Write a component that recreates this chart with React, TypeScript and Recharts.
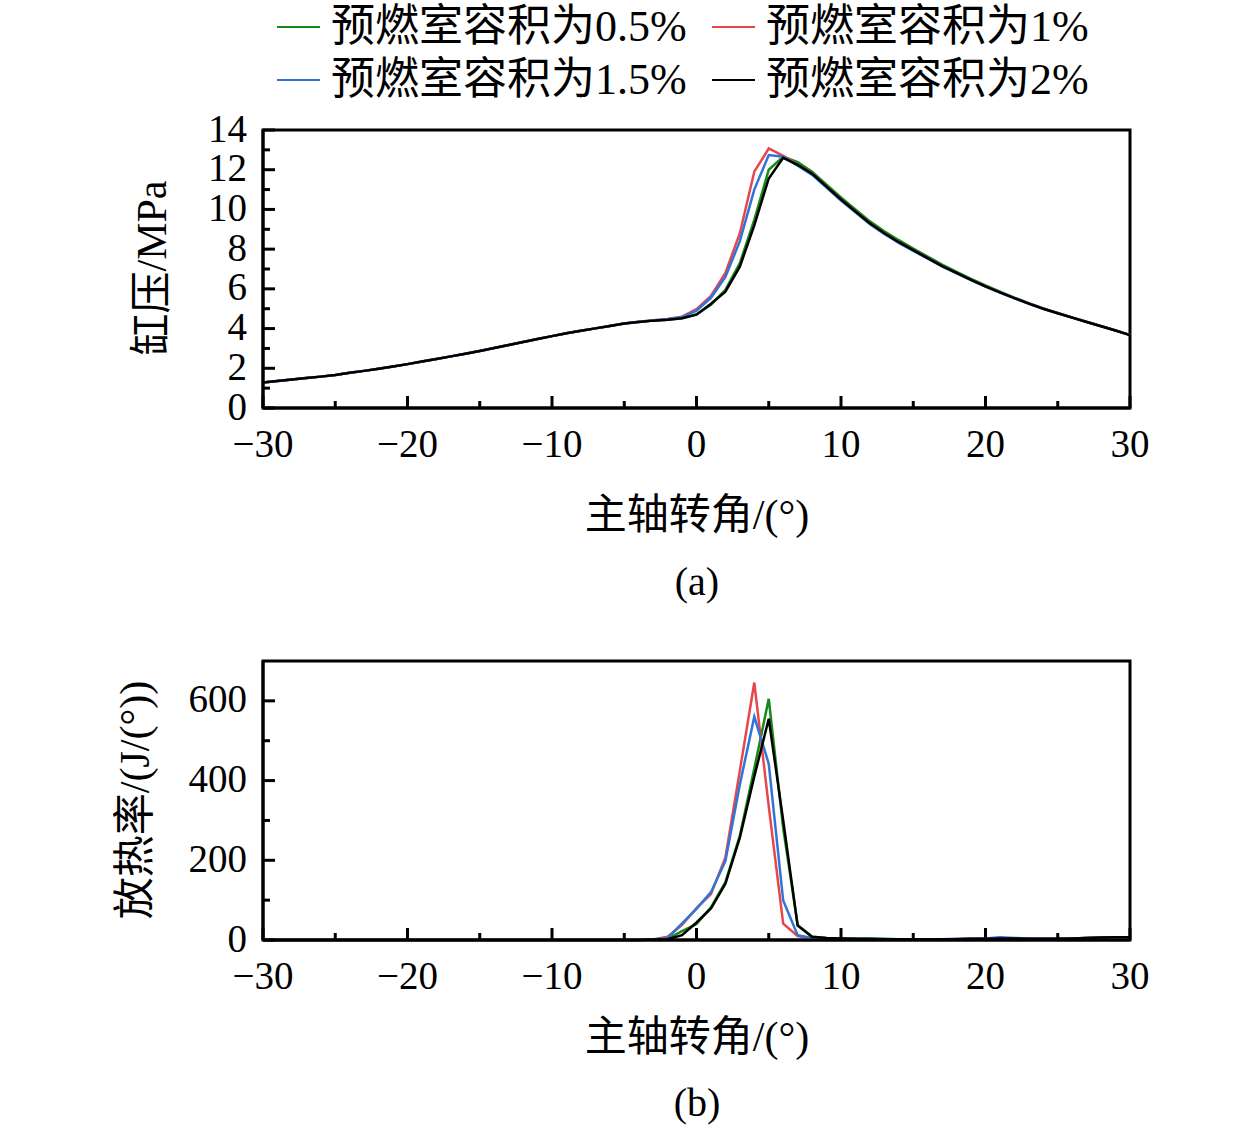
import React from "react";
import { LineChart, Line, XAxis, YAxis, ReferenceArea } from "recharts";

// crank angle, degrees
const angle = [
  -30, -29, -28, -27, -26, -25, -24, -23, -22, -21, -20, -19, -18, -17, -16, -15, -14, -13, -12, -11,
  -10, -9, -8, -7, -6, -5, -4, -3, -2, -1, 0, 1, 2, 3, 4, 5, 6, 7, 8, 9, 10, 11, 12, 13, 14, 15, 16,
  17, 18, 19, 20, 21, 22, 23, 24, 25, 26, 27, 28, 29, 30,
];

// cylinder pressure, MPa
const pressure05 = [
  1.29, 1.36, 1.43, 1.51, 1.58, 1.66, 1.77, 1.87, 1.98, 2.09, 2.21, 2.34, 2.47, 2.6, 2.73, 2.87, 3.02,
  3.17, 3.32, 3.47, 3.62, 3.76, 3.89, 4.01, 4.13, 4.25, 4.33, 4.4, 4.45, 4.52, 4.72, 5.2, 5.95, 7.3,
  9.47, 12.0, 12.65, 12.38, 11.9, 11.25, 10.6, 10.0, 9.4, 8.9, 8.45, 8.03, 7.62, 7.22, 6.86, 6.5, 6.17,
  5.86, 5.56, 5.28, 5.02, 4.79, 4.56, 4.34, 4.13, 3.91, 3.68,
];
const pressure1 = [
  1.29, 1.36, 1.43, 1.51, 1.58, 1.66, 1.77, 1.87, 1.98, 2.09, 2.21, 2.34, 2.47, 2.6, 2.73, 2.87, 3.02,
  3.17, 3.32, 3.47, 3.62, 3.76, 3.89, 4.01, 4.13, 4.25, 4.34, 4.42, 4.48, 4.6, 4.98, 5.65, 6.8, 8.8,
  11.9, 13.07, 12.7, 12.25, 11.8, 11.15, 10.5, 9.9, 9.3, 8.8, 8.35, 7.95, 7.55, 7.15, 6.8, 6.45, 6.12,
  5.82, 5.53, 5.26, 5.0, 4.77, 4.55, 4.33, 4.12, 3.9, 3.67,
];
const pressure15 = [
  1.29, 1.36, 1.43, 1.51, 1.58, 1.66, 1.77, 1.87, 1.98, 2.09, 2.21, 2.34, 2.47, 2.6, 2.73, 2.87, 3.02,
  3.17, 3.32, 3.47, 3.62, 3.76, 3.89, 4.01, 4.13, 4.25, 4.34, 4.41, 4.47, 4.58, 4.9, 5.55, 6.6, 8.4,
  11.0, 12.74, 12.65, 12.2, 11.74, 11.1, 10.45, 9.85, 9.25, 8.76, 8.31, 7.91, 7.52, 7.13, 6.78, 6.44,
  6.11, 5.81, 5.52, 5.25, 5.0, 4.77, 4.55, 4.33, 4.12, 3.9, 3.67,
];
const pressure2 = [
  1.29, 1.36, 1.43, 1.51, 1.58, 1.66, 1.77, 1.87, 1.98, 2.09, 2.21, 2.34, 2.47, 2.6, 2.73, 2.87, 3.02,
  3.17, 3.32, 3.47, 3.62, 3.76, 3.89, 4.01, 4.13, 4.25, 4.33, 4.4, 4.45, 4.52, 4.7, 5.25, 5.86, 7.12,
  9.2, 11.56, 12.6, 12.25, 11.8, 11.15, 10.5, 9.9, 9.3, 8.8, 8.35, 7.95, 7.55, 7.15, 6.8, 6.45, 6.12,
  5.82, 5.53, 5.26, 5.0, 4.77, 4.55, 4.33, 4.12, 3.9, 3.67,
];

// heat release rate, J/(°)
const heat05 = [
  0, 0, 0, 0, 0, 0, 0, 0, 0, 0, 0, 0, 0, 0, 0, 0, 0, 0, 0, 0, 0, 0, 0, 0, 0, 0, 0, 1, 3, 22, 40, 82,
  145, 262, 430, 605, 280, 38, 8, 5, 4, 3, 3, 3, 2, 2, 2, 2, 2, 3, 3, 4, 4, 3, 3, 3, 4, 5, 6, 6, 6,
];
const heat1 = [
  0, 0, 0, 0, 0, 0, 0, 0, 0, 0, 0, 0, 0, 0, 0, 0, 0, 0, 0, 0, 0, 0, 0, 0, 0, 0, 0, 1, 8, 38, 80, 115,
  207, 425, 646, 335, 41, 10, 4, 3, 3, 2, 2, 2, 2, 2, 2, 2, 2, 3, 3, 4, 3, 3, 3, 3, 4, 5, 5, 6, 6,
];
const heat15 = [
  0, 0, 0, 0, 0, 0, 0, 0, 0, 0, 0, 0, 0, 0, 0, 0, 0, 0, 0, 0, 0, 0, 0, 0, 0, 0, 0, 1, 5, 42, 78, 120,
  198, 390, 560, 442, 99, 12, 5, 4, 3, 3, 2, 2, 2, 2, 2, 2, 3, 3, 4, 7, 5, 4, 3, 4, 4, 5, 6, 7, 7,
];
const heat2 = [
  0, 0, 0, 0, 0, 0, 0, 0, 0, 0, 0, 0, 0, 0, 0, 0, 0, 0, 0, 0, 0, 0, 0, 0, 0, 0, 0, 1, 2, 12, 44, 79,
  141, 257, 410, 555, 300, 36, 8, 5, 4, 3, 3, 2, 2, 2, 2, 2, 2, 3, 3, 4, 4, 3, 3, 3, 4, 5, 6, 7, 7,
];

const xTicks = [-30, -25, -20, -15, -10, -5, 0, 5, 10, 15, 20, 25, 30];
const pressureTicks = [0, 1, 2, 3, 4, 5, 6, 7, 8, 9, 10, 11, 12, 13, 14];
const heatTicks = [0, 100, 200, 300, 400, 500, 600];

const series = [
  { key: "v05", name: "预燃室容积为0.5%", color: "#168a16" },
  { key: "v1", name: "预燃室容积为1%", color: "#e5474d" },
  { key: "v15", name: "预燃室容积为1.5%", color: "#2f74d6" },
  { key: "v2", name: "预燃室容积为2%", color: "#000000" },
];

const pressureData = angle.map((a, i) => ({
  angle: a,
  v05: pressure05[i],
  v1: pressure1[i],
  v15: pressure15[i],
  v2: pressure2[i],
}));
const heatData = angle.map((a, i) => ({
  angle: a,
  v05: heat05[i],
  v1: heat1[i],
  v15: heat15[i],
  v2: heat2[i],
}));

const FONT = "'Liberation Serif', 'Noto Sans CJK SC', serif";

const fmt = (v: number) => (v < 0 ? "\u2212" + Math.abs(v) : String(v));

const XTick = ({ x, y, payload }: any) => {
  const major = payload.value % 10 === 0;
  return (
    <g>
      <line x1={x} x2={x} y1={y} y2={y - (major ? 12 : 7)} stroke="#000" strokeWidth={3} />
      {major && (
        <text x={x} y={y + 35} textAnchor="middle" dominantBaseline="central" fontSize={39} fontFamily={FONT} fill="#000">
          {fmt(payload.value)}
        </text>
      )}
    </g>
  );
};

const makeYTick = (step: number) => ({ x, y, payload }: any) => {
  const major = payload.value % (step * 2) === 0;
  return (
    <g>
      <line x1={x} x2={x + (major ? 12 : 7)} y1={y} y2={y} stroke="#000" strokeWidth={3} />
      {major && (
        <text x={x - 16} y={y - 2} textAnchor="end" dominantBaseline="central" fontSize={39} fontFamily={FONT} fill="#000">
          {payload.value}
        </text>
      )}
    </g>
  );
};

const PressureTick = makeYTick(1);
const HeatTick = makeYTick(100);

const axisStyle = { stroke: "#000", strokeWidth: 3 };

const Text = ({ x, y, size = 42, rotate = false, children }: any) => (
  <div
    style={{
      position: "absolute",
      left: x,
      top: y,
      transform: `translate(-50%, -50%)${rotate ? " rotate(-90deg)" : ""}`,
      fontSize: size,
      fontFamily: FONT,
      whiteSpace: "nowrap",
      lineHeight: 1,
      color: "#000",
    }}>
    {children}
  </div>
);

// axes get 1px of size so Recharts still draws them; margins are trimmed by that pixel
const Panel = ({ data, yMax, ticks, tick, height, top, bottom }: any) => (
  <LineChart width={1260} height={height} data={data} margin={{ top, right: 130, left: 262, bottom: bottom - 1 }}>
    <XAxis
      dataKey="angle"
      type="number"
      domain={[-30, 30]}
      ticks={xTicks}
      interval={0}
      height={1}
      tickSize={0}
      tickMargin={0}
      axisLine={axisStyle}
      tick={<XTick />}
    />
    <YAxis
      type="number"
      domain={[0, yMax]}
      ticks={ticks}
      interval={0}
      width={1}
      tickSize={0}
      tickMargin={0}
      axisLine={axisStyle}
      tick={tick}
    />
    <ReferenceArea x1={-30} x2={30} y1={0} y2={yMax} fill="none" stroke="#000" strokeWidth={3} />
    {series.map((s) => (
      <Line
        key={s.key}
        dataKey={s.key}
        type="linear"
        stroke={s.color}
        strokeWidth={2.5}
        dot={false}
        isAnimationActive={false}
      />
    ))}
  </LineChart>
);

export default function App() {
  return (
    <div style={{ position: "absolute", left: 0, top: 0, width: 1260, height: 1128, background: "#fff" }}>
      {/* legend */}
      {series.map((s, i) => {
        const lx = i % 2 === 0 ? 277 : 712;
        const ly = i < 2 ? 27 : 80;
        return (
          <div key={s.key}>
            <div style={{ position: "absolute", left: lx, top: ly - 1, width: 43, height: 2, background: s.color }} />
            <div
              style={{
                position: "absolute",
                left: lx + 54,
                top: ly,
                transform: "translateY(-50%)",
                fontSize: 44,
                fontFamily: FONT,
                whiteSpace: "nowrap",
                lineHeight: 1,
              }}>
              {s.name}
            </div>
          </div>
        );
      })}

      <div style={{ position: "absolute", left: 0, top: 0 }}>
        <Panel data={pressureData} yMax={14} ticks={pressureTicks} tick={<PressureTick />} height={600} top={130} bottom={192} />
      </div>
      <div style={{ position: "absolute", left: 0, top: 600 }}>
        <Panel data={heatData} yMax={700} ticks={heatTicks} tick={<HeatTick />} height={528} top={61} bottom={188} />
      </div>

      <Text x={152} y={268} rotate>缸压/MPa</Text>
      <Text x={697} y={515}>主轴转角/(°)</Text>
      <Text x={697} y={582} size={40}>(a)</Text>

      <Text x={135} y={800} rotate>放热率/(J/(°))</Text>
      <Text x={697} y={1037}>主轴转角/(°)</Text>
      <Text x={697} y={1103} size={40}>(b)</Text>
    </div>
  );
}
